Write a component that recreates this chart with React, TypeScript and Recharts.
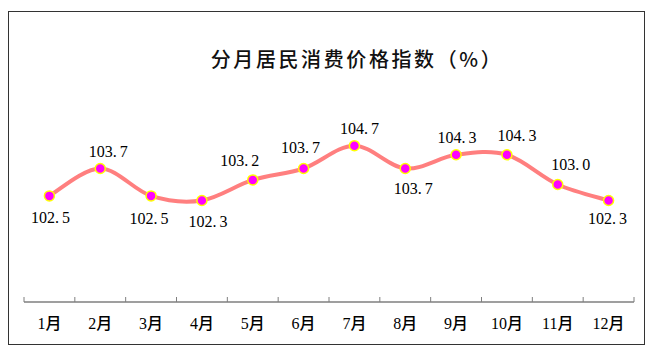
import React from "react";
import { LineChart, Line, XAxis, YAxis, LabelList } from "recharts";

const months = ["1月", "2月", "3月", "4月", "5月", "6月", "7月", "8月", "9月", "10月", "11月", "12月"];
const cpi = [102.5, 103.7, 102.5, 102.3, 103.2, 103.7, 104.7, 103.7, 104.3, 104.3, 103.0, 102.3];
const title = "分月居民消费价格指数（%）";

// label nudges relative to each point (style only)
const labelDx = [1, 8, -2, 6, -13, -3, 5, 8, 1, 10, 13, -1];
const labelDy = [22, -17, 23, 21, -19, -21, -17, 20.5, -17.5, -19.5, -20, 18];

const data = months.map((m, i) => ({ idx: i + 1, month: m, value: cpi[i] }));
const allTicks: number[] = [];
for (let i = 0; i <= months.length; i++) {
  allTicks.push(i + 0.5);
  if (i < months.length) allTicks.push(i + 1);
}

function smoothCurve(context: any) {
  let pts: [number, number][] = [];
  return {
    areaStart() {},
    areaEnd() {},
    lineStart() {
      pts = [];
    },
    lineEnd() {
      const n = pts.length;
      if (n === 0) return;
      context.moveTo(pts[0][0], pts[0][1]);
      for (let i = 0; i < n - 1; i++) {
        const p0 = pts[i - 1] || pts[i];
        const p1 = pts[i];
        const p2 = pts[i + 1];
        const p3 = pts[i + 2] || p2;
        context.bezierCurveTo(
          p1[0] + (p2[0] - p0[0]) / 6,
          p1[1] + (p2[1] - p0[1]) / 6,
          p2[0] - (p3[0] - p1[0]) / 6,
          p2[1] - (p3[1] - p1[1]) / 6,
          p2[0],
          p2[1]
        );
      }
    },
    point(x: number, y: number) {
      pts.push([+x, +y]);
    },
  };
}

const ValueLabel = (props: any) => {
  const { x, y, value, index } = props;
  const s = Number(value).toFixed(1);
  const [a, b] = s.split(".");
  return (
    <text
      x={x + labelDx[index]}
      y={y + labelDy[index] + 5.5}
      textAnchor="middle"
      fontFamily="'Liberation Serif', 'DejaVu Serif', serif"
      fontSize={16}
      fill="#000"
    >
      {a + "."}
      <tspan dx={3}>{b}</tspan>
    </text>
  );
};

const AxisTick = (props: any) => {
  const { x, y, payload } = props;
  const v = payload.value as number;
  if (Number.isInteger(v)) {
    return (
      <text
        x={x}
        y={y + 27}
        textAnchor="middle"
        fontFamily="'Liberation Serif', 'Noto Sans CJK SC', serif"
        fontSize={16}
        fontWeight={500}
        fill="#000"
      >
        {months[v - 1]}
      </text>
    );
  }
  return <line x1={x} x2={x} y1={y} y2={y - 5} stroke="#7f7f7f" strokeWidth={1} />;
};

export default function App() {
  return (
    <div style={{ position: "absolute", left: 0, top: 0, width: 660, height: 361, background: "#fff" }}>
      <div
        style={{
          position: "absolute",
          left: 8,
          top: 11,
          width: 637,
          height: 334,
          border: "1px solid #333",
          boxSizing: "border-box",
        }}
      />
      <div
        style={{
          position: "absolute",
          left: 27,
          top: 47,
          width: 660,
          textAlign: "center",
          fontFamily: "'Noto Sans CJK SC', sans-serif",
          fontSize: 20,
          fontWeight: 500,
          lineHeight: "24px",
          letterSpacing: 2.6,
          color: "#111",
        }}
      >
        {title}
      </div>
      <div style={{ position: "absolute", left: 0, top: 0 }}>
        <LineChart width={660} height={361} data={data} margin={{ top: 116, right: 26, left: 24, bottom: 0 }}>
          <YAxis hide domain={[97.85, 106]} type="number" />
          <XAxis
            dataKey="idx"
            type="number"
            domain={[0.5, 12.5]}
            ticks={allTicks}
            interval={0}
            tick={<AxisTick />}
            tickLine={false}
            tickSize={0}
            tickMargin={0}
            height={59}
            axisLine={{ stroke: "#7f7f7f", strokeWidth: 1.5 }}
          />
          <Line
            dataKey="value"
            type={smoothCurve as any}
            stroke="#ff7f7f"
            strokeWidth={4}
            isAnimationActive={false}
            dot={{ r: 5, fill: "#ff00ff", stroke: "#ffff00", strokeWidth: 1.5 }}
            activeDot={false}
          >
            <LabelList dataKey="value" content={ValueLabel} />
          </Line>
        </LineChart>
      </div>
    </div>
  );
}
